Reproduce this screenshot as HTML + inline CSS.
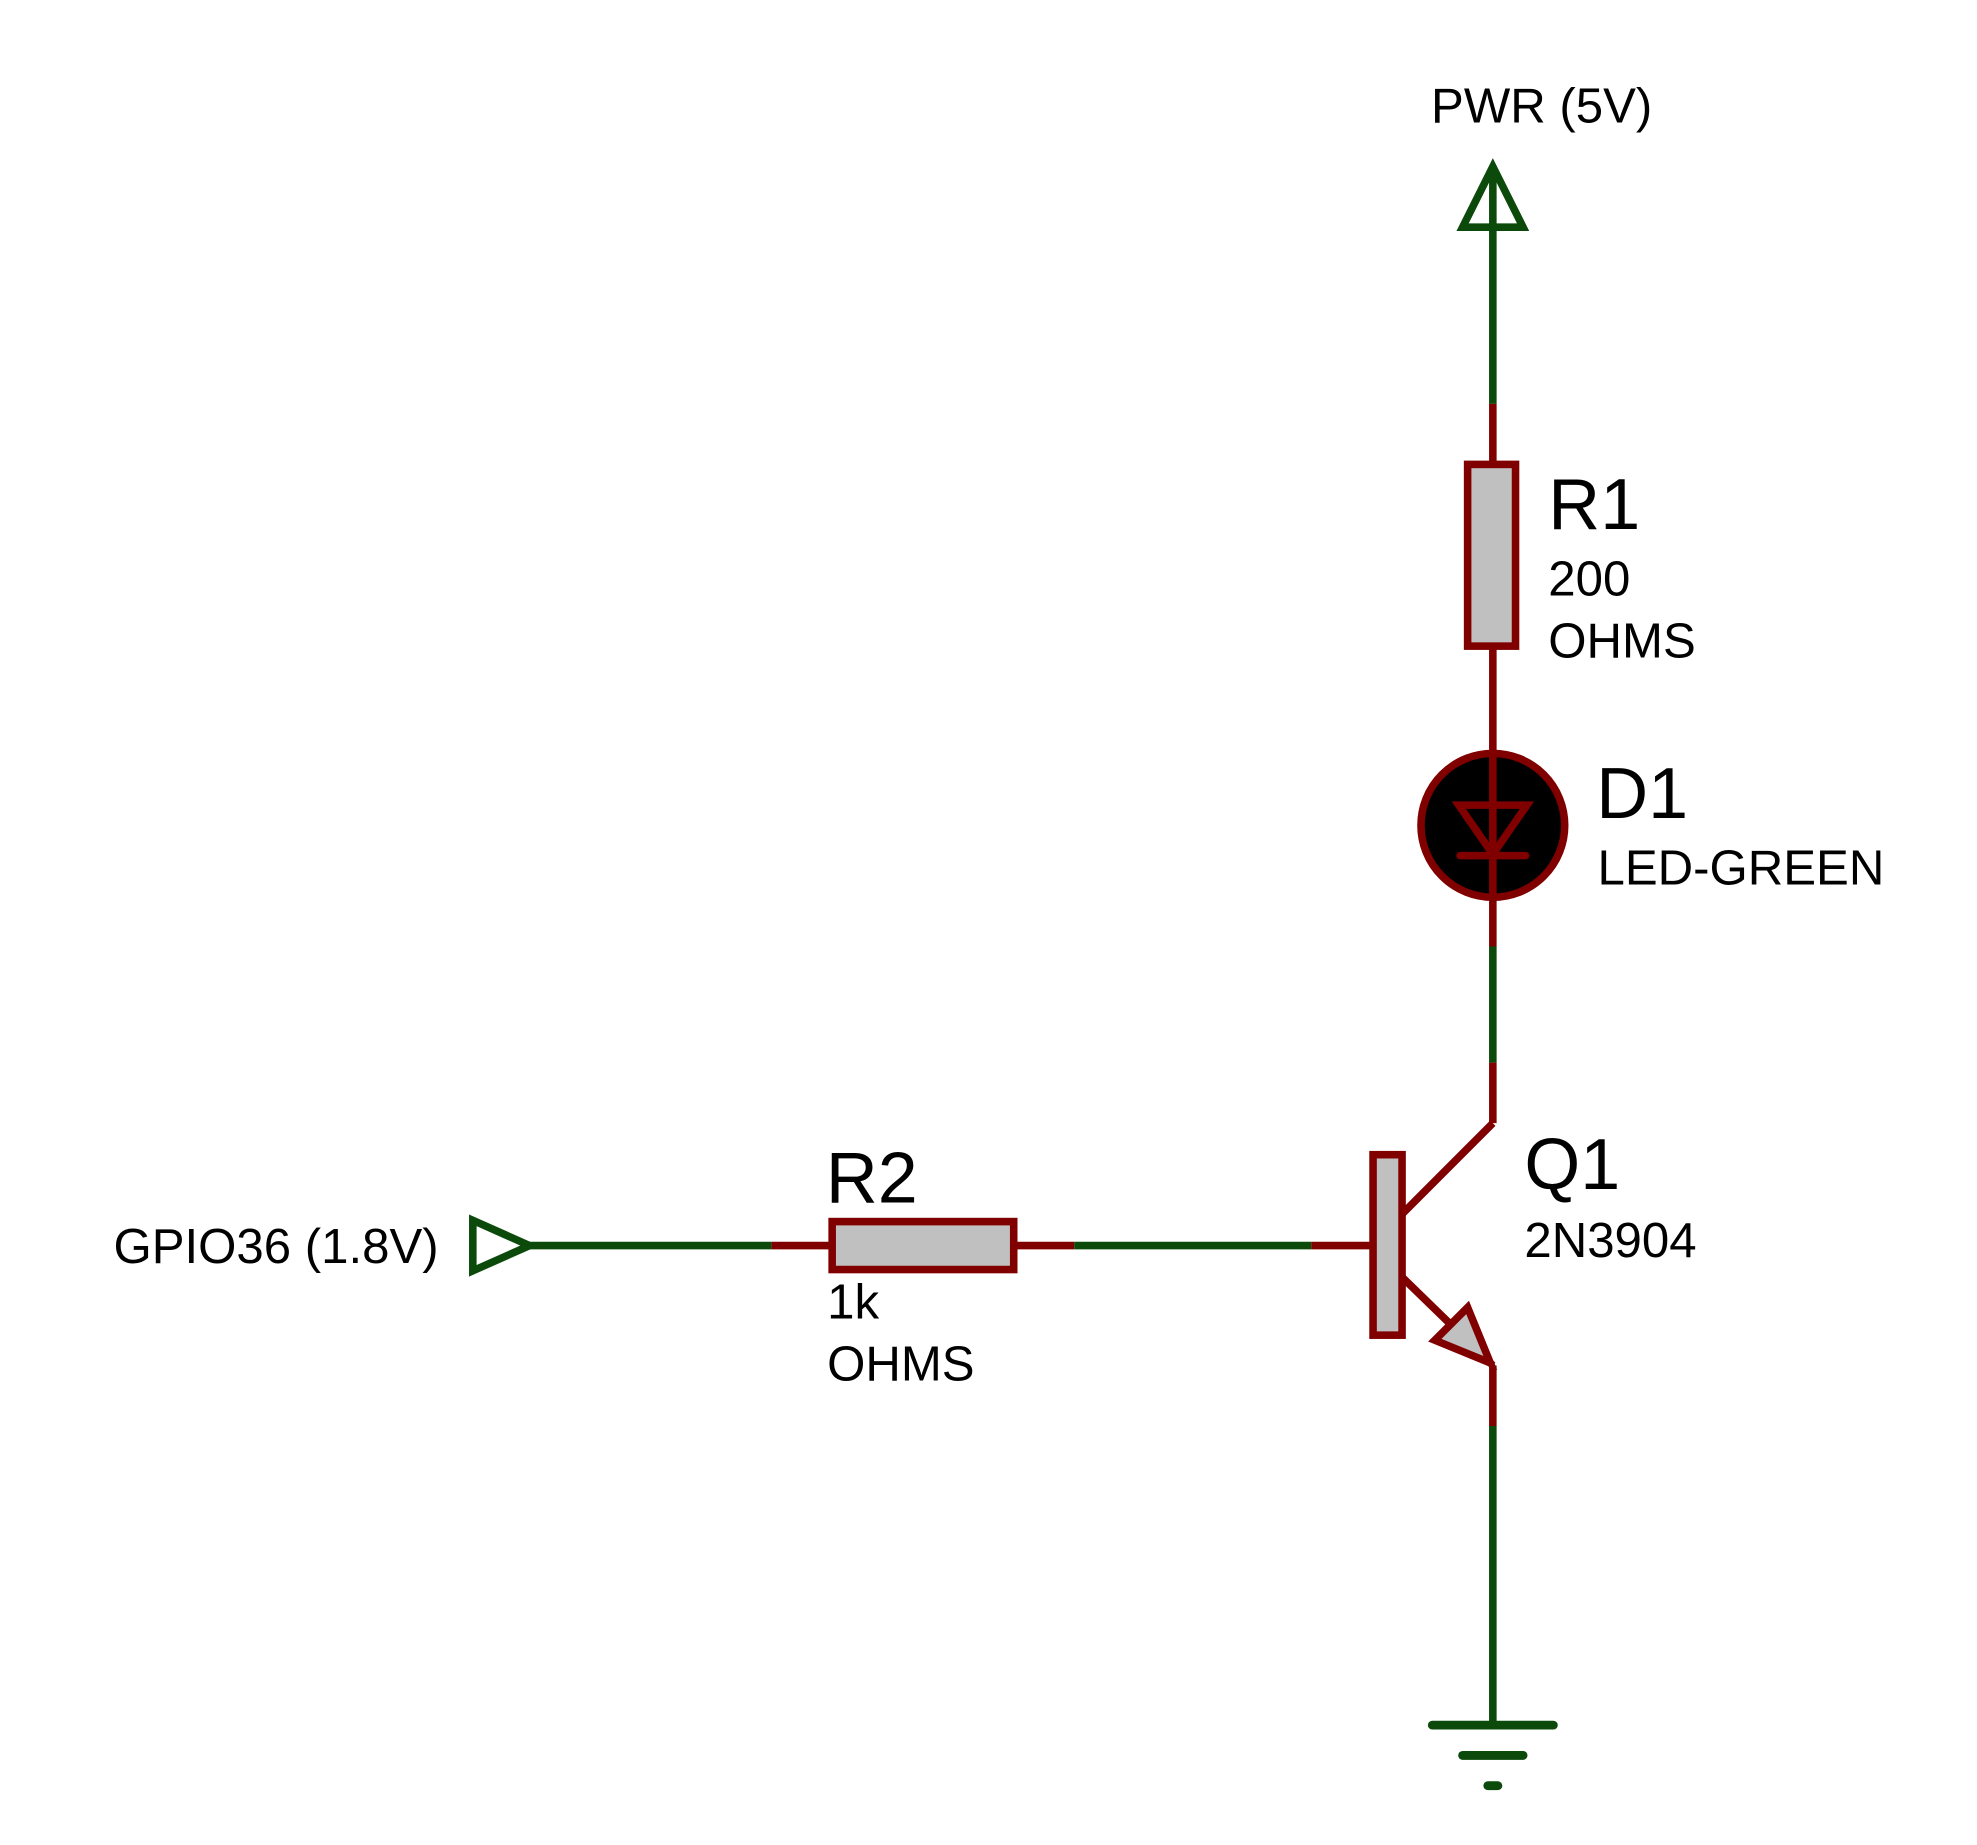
<!DOCTYPE html>
<html><head><meta charset="utf-8"><style>
html,body{margin:0;padding:0;background:#fff;width:1977px;height:1845px;overflow:hidden}
svg{display:block}
text{font-family:"Liberation Sans",sans-serif;fill:#000}
</style></head><body>
<svg width="1977" height="1845" viewBox="0 0 1568 1462" preserveAspectRatio="none">
<g stroke-width="6" fill="none" stroke-linecap="butt">
 <g>
  <polygon points="1184,132 1160,180 1208,180" stroke="#0b4a0b"/>
  <line x1="1184" y1="132" x2="1184" y2="320" stroke="#0b4a0b"/>
 </g>
 <line x1="1184" y1="320" x2="1184" y2="368" stroke="#800000"/>
 <rect x="1164" y="368" width="38" height="144" fill="#c0c0c0" stroke="#800000"/>
 <line x1="1184" y1="512" x2="1184" y2="750" stroke="#800000"/>
 <g>
  <circle cx="1184" cy="654" r="57" fill="#000" stroke="#800000"/>
  <line x1="1184" y1="598" x2="1184" y2="712" stroke="#800000"/>
  <polygon points="1157,638 1211,638 1184,677" stroke="#800000"/>
  <line x1="1158" y1="678" x2="1210" y2="678" stroke="#800000" stroke-linecap="round"/>
 </g>
 <line x1="1184" y1="750" x2="1184" y2="842" stroke="#0b4a0b"/>
 <line x1="1184" y1="842" x2="1184" y2="890" stroke="#800000"/>
 <g>
  <line x1="1184" y1="890" x2="1112" y2="962" stroke="#800000"/>
  <line x1="1112" y1="1012" x2="1184" y2="1082" stroke="#800000"/>
  <polygon points="1138,1062 1164,1036 1182,1080" fill="#c0c0c0" stroke="#800000"/>
  <rect x="1089" y="915" width="23" height="143" fill="#c0c0c0" stroke="#800000"/>
  <line x1="1184" y1="1082" x2="1184" y2="1130" stroke="#800000"/>
 </g>
 <line x1="1184" y1="1130" x2="1184" y2="1367" stroke="#0b4a0b"/>
 <g stroke="#0b4a0b" stroke-width="7" stroke-linecap="round">
  <line x1="1136" y1="1367" x2="1232" y2="1367"/>
  <line x1="1160" y1="1391" x2="1208" y2="1391"/>
  <line x1="1180" y1="1415" x2="1188" y2="1415"/>
 </g>
 <polygon points="375,967 375,1007 420,987" stroke="#0b4a0b"/>
 <line x1="420" y1="987" x2="612" y2="987" stroke="#0b4a0b"/>
 <line x1="612" y1="987" x2="660" y2="987" stroke="#800000"/>
 <rect x="660" y="968" width="144" height="38" fill="#c0c0c0" stroke="#800000"/>
 <line x1="804" y1="987" x2="852" y2="987" stroke="#800000"/>
 <line x1="852" y1="987" x2="1040" y2="987" stroke="#0b4a0b"/>
 <line x1="1040" y1="987" x2="1089" y2="987" stroke="#800000"/>
</g>
<text x="1135" y="97" font-size="39">PWR (5V)</text>
<text x="1228" y="419" font-size="57">R1</text>
<text x="1228" y="472" font-size="39">200</text>
<text x="1228" y="521" font-size="39">OHMS</text>
<text x="1266" y="648" font-size="57">D1</text>
<text x="1267" y="701" font-size="39">LED-GREEN</text>
<text x="1209" y="942" font-size="57">Q1</text>
<text x="1209" y="996" font-size="39">2N3904</text>
<text x="655" y="953" font-size="57">R2</text>
<text x="656" y="1045" font-size="39">1k</text>
<text x="656" y="1094" font-size="39">OHMS</text>
<text x="90" y="1001" font-size="39">GPIO36 (1.8V)</text>
</svg>
</body></html>
